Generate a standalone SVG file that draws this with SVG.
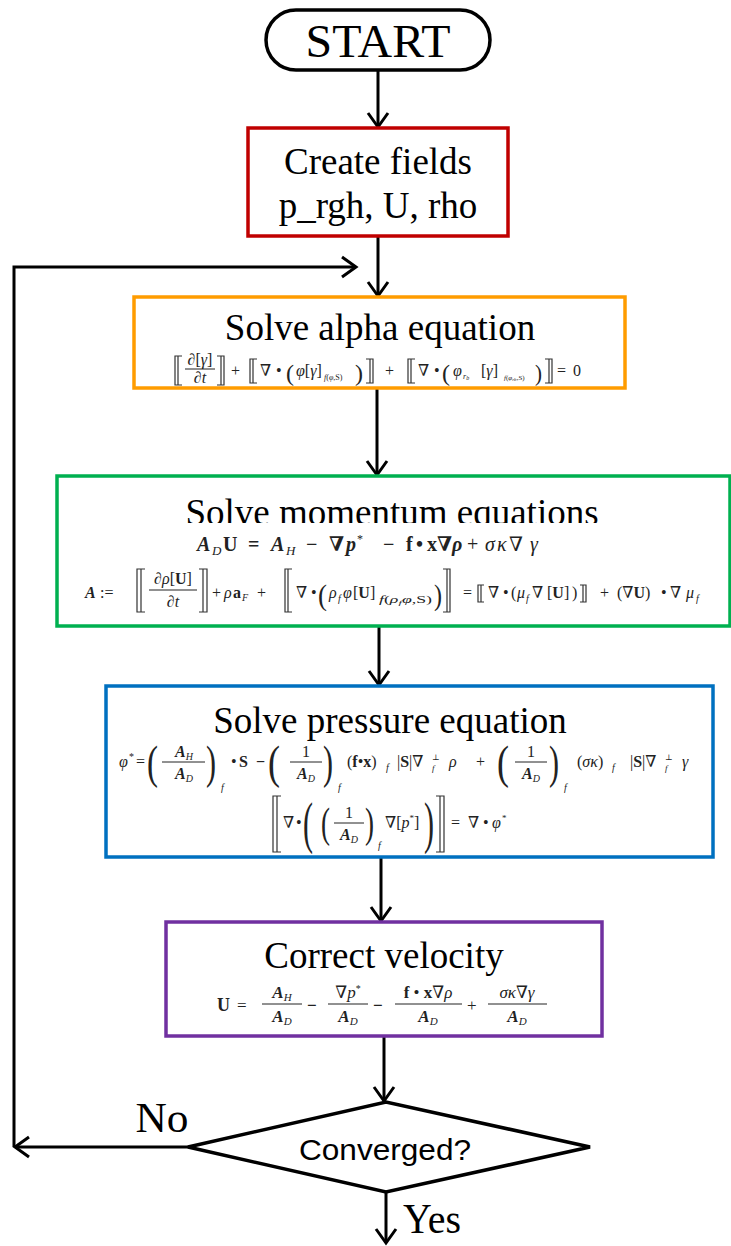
<svg xmlns="http://www.w3.org/2000/svg" width="731" height="1246" viewBox="0 0 731 1246">
<style>
.box{fill:#fff;stroke-width:3.5}
.lbl{font-family:"Liberation Serif","Times New Roman",serif;font-size:37px;fill:#000;text-anchor:middle}
.m{font-family:"Liberation Serif","DejaVu Serif",serif;font-size:16px;fill:#222}
.i{font-style:italic}
.b{font-weight:bold}
.bi{font-weight:bold;font-style:italic}
.bar{stroke:#222;stroke-width:1}
.db{fill:none;stroke:#333;stroke-width:1.2}
.c{text-anchor:middle}
.con{fill:none;stroke:#000;stroke-width:3}
</style>
<defs>
<marker id="ah" markerUnits="userSpaceOnUse" markerWidth="40" markerHeight="40" viewBox="-20 -20 40 40" refX="0" refY="0" orient="auto" overflow="visible">
<path d="M-14,-10 L0,0 L-14,10" fill="none" stroke="#000" stroke-width="3"/>
</marker>
<clipPath id="clipM"><rect x="60" y="470" width="660" height="53"/></clipPath>
</defs>
<rect width="731" height="1246" fill="#fff"/>

<g id="connectors">
<line class="con" x1="378" y1="70" x2="378" y2="127" marker-end="url(#ah)"/>
<line class="con" x1="378" y1="236" x2="378" y2="296" marker-end="url(#ah)"/>
<line class="con" x1="377" y1="388" x2="377" y2="475" marker-end="url(#ah)"/>
<line class="con" x1="379" y1="626" x2="379" y2="685" marker-end="url(#ah)"/>
<line class="con" x1="381" y1="857" x2="381" y2="921" marker-end="url(#ah)"/>
<line class="con" x1="384" y1="1036" x2="384" y2="1101" marker-end="url(#ah)"/>
<line class="con" x1="386" y1="1192" x2="386" y2="1243" marker-end="url(#ah)"/>
<line class="con" x1="188" y1="1147" x2="15" y2="1147" marker-end="url(#ah)"/>
<path class="con" d="M14,1147 V267 H356" marker-end="url(#ah)"/>
</g>

<g id="start">
<rect x="266" y="10" width="224" height="60" rx="30" ry="30" fill="#fff" stroke="#000" stroke-width="3.5"/>
<text class="lbl" x="378" y="57" textLength="145" lengthAdjust="spacingAndGlyphs" style="font-size:46px">START</text>
</g>

<g id="create-fields">
<rect class="box" x="248" y="128" width="260" height="108" stroke="#C00000"/>
<text class="lbl" x="378" y="174">Create fields</text>
<text class="lbl" x="378" y="218">p_rgh, U, rho</text>
</g>

<g id="solve-alpha">
<rect class="box" x="134" y="297" width="491" height="91" stroke="#FF9C00"/>
<text class="lbl" x="380" y="340">Solve alpha equation</text>
<g class="m">
<path class="db" d="M182,356 H175 V385 H182 M178,356 V385"/>
<text class="c" x="200" y="365">∂[<tspan class="i">γ</tspan>]</text>
<line class="bar" x1="185" y1="369" x2="215" y2="369"/>
<text class="c" x="200" y="383">∂<tspan class="i">t</tspan></text>
<path class="db" d="M217,356 H224 V385 H217 M221,356 V385"/>
<text x="231" y="376">+</text>
<path class="db" d="M257,359 H250 V383 H257 M253,359 V383"/>
<text x="260" y="376">∇</text>
<text x="276" y="376">•</text>
<text x="286" y="381" font-size="24" textLength="8" lengthAdjust="spacingAndGlyphs">(</text>
<text x="296" y="376"><tspan class="i">φ</tspan>[<tspan class="i">γ</tspan>]</text>
<text x="324" y="380" font-size="8"><tspan class="i">f</tspan>(<tspan class="i">φ</tspan>,S)</text>
<text x="355" y="381" font-size="24" textLength="8" lengthAdjust="spacingAndGlyphs">)</text>
<path class="db" d="M366,359 H373 V383 H366 M370,359 V383"/>
<text x="385" y="376">+</text>
<path class="db" d="M415,359 H408 V383 H415 M411,359 V383"/>
<text x="418" y="376">∇</text>
<text x="434" y="376">•</text>
<text x="442" y="381" font-size="24" textLength="8" lengthAdjust="spacingAndGlyphs">(</text>
<text class="i" x="453" y="376">φ</text>
<text class="i" x="463" y="379" font-size="8">r<tspan font-size="6" dy="1">b</tspan></text>
<text x="481" y="376">[<tspan class="i">γ</tspan>]</text>
<text x="504" y="380" font-size="7"><tspan class="i">f</tspan>(<tspan class="i">φ</tspan><tspan class="i" font-size="5" dy="1">rb</tspan><tspan dy="-1">,S)</tspan></text>
<text x="535" y="381" font-size="24" textLength="7" lengthAdjust="spacingAndGlyphs">)</text>
<path class="db" d="M545,359 H552 V383 H545 M549,359 V383"/>
<text x="557" y="376">=</text>
<text x="573" y="376">0</text>
</g>
</g>

<g id="solve-momentum">
<rect class="box" x="57" y="476" width="673" height="150" stroke="#00B050"/>
<text class="lbl" x="392" y="525" clip-path="url(#clipM)">Solve momentum equations</text>
<g class="m" style="font-size:20px">
<text class="bi" x="197" y="551">A</text>
<text class="i" x="212" y="555" font-size="13">D</text>
<text class="b" x="223" y="551">U</text>
<text class="b" x="248" y="551">=</text>
<text class="bi" x="271" y="551">A</text>
<text class="i" x="286" y="555" font-size="13">H</text>
<text class="b" x="306" y="551">−</text>
<text class="b" x="329" y="551">∇</text>
<text class="bi" x="346" y="551">p</text>
<text x="357" y="543" font-size="12">*</text>
<text class="b" x="383" y="551">−</text>
<text class="b" x="406" y="551">f</text>
<text class="b" x="416" y="551">•</text>
<text class="b" x="427" y="551">x</text>
<text class="b" x="437" y="551">∇</text>
<text class="bi" x="452" y="551">ρ</text>
<text x="467" y="551">+</text>
<text class="i" x="485" y="551">σ</text>
<text class="i" x="497" y="551">κ</text>
<text x="509" y="551">∇</text>
<text class="i" x="530" y="551">γ</text>
</g>
<g class="m" style="font-size:16px">
<text class="bi" x="85" y="598">A</text>
<text x="100" y="598">:=</text>
<path class="db" d="M145,569 H137 V612 H145 M141,569 V612"/>
<text class="c" x="173" y="584">∂<tspan class="i">ρ</tspan>[<tspan class="b">U</tspan>]</text>
<line class="bar" x1="149" y1="590" x2="197" y2="590"/>
<text class="c" x="173" y="607">∂<tspan class="i">t</tspan></text>
<path class="db" d="M199,569 H207 V612 H199 M203,569 V612"/>
<text x="212" y="598">+</text>
<text class="i" x="224" y="598">ρ</text>
<text class="b" x="233" y="598">a</text>
<text class="i" x="242" y="601" font-size="10">F</text>
<text x="257" y="598">+</text>
<path class="db" d="M292,569 H285 V612 H292 M288,569 V612"/>
<text x="296" y="598">∇</text>
<text x="311" y="598">•</text>
<text x="318" y="605" font-size="30" textLength="9" lengthAdjust="spacingAndGlyphs">(</text>
<text class="i" x="329" y="598">ρ</text>
<text class="i" x="338" y="602" font-size="10">f</text>
<text class="i" x="343" y="598">φ</text>
<text x="353" y="598">[<tspan class="b">U</tspan>]</text>
<text x="379" y="603" font-size="10" textLength="53" lengthAdjust="spacingAndGlyphs"><tspan class="i">f</tspan>(<tspan class="i">ρ</tspan><tspan class="i" font-size="7" dy="2">f</tspan><tspan class="i" dy="-2">φ</tspan>,S)</text>
<text x="434" y="605" font-size="30" textLength="8" lengthAdjust="spacingAndGlyphs">)</text>
<path class="db" d="M443,569 H450 V612 H443 M447,569 V612"/>
<text x="463" y="598">=</text>
<path class="db" d="M484,585 H478 V602 H484 M481,585 V602"/>
<text x="488" y="598">∇</text>
<text x="503" y="598">•</text>
<text x="511" y="598">(</text>
<text class="i" x="517" y="598">μ</text>
<text class="i" x="526" y="602" font-size="10">f</text>
<text x="532" y="598">∇</text>
<text x="547" y="598">[<tspan class="b">U</tspan>]</text>
<text x="572" y="598">)</text>
<path class="db" d="M580,585 H586 V602 H580 M583,585 V602"/>
<text x="600" y="598">+</text>
<text x="617" y="598">(∇<tspan class="b">U</tspan>)</text>
<text x="661" y="598">•</text>
<text x="670" y="598">∇</text>
<text class="i" x="686" y="598">μ</text>
<text class="i" x="696" y="602" font-size="10">f</text>
</g>
</g>

<g id="solve-pressure">
<rect class="box" x="106" y="686" width="607" height="171" stroke="#0070C0"/>
<text class="lbl" x="390" y="733">Solve pressure equation</text>
<g class="m">
<text class="i" x="119" y="767">φ</text>
<text x="129" y="760" font-size="10">*</text>
<text x="136" y="767">=</text>
<text x="147" y="778" font-size="46" textLength="11" lengthAdjust="spacingAndGlyphs">(</text>
<text class="c" x="184" y="757"><tspan class="bi">A</tspan><tspan class="i" font-size="10" dy="3">H</tspan></text>
<line class="bar" x1="162" y1="762" x2="205" y2="762"/>
<text class="c" x="184" y="779"><tspan class="bi">A</tspan><tspan class="i" font-size="10" dy="3">D</tspan></text>
<text x="206" y="778" font-size="46" textLength="10" lengthAdjust="spacingAndGlyphs">)</text>
<text class="i" x="221" y="791" font-size="10">f</text>
<text x="231" y="767">•</text>
<text class="b" x="239" y="767">S</text>
<text class="b" x="256" y="767">−</text>
<text x="268" y="778" font-size="46" textLength="12" lengthAdjust="spacingAndGlyphs">(</text>
<text class="c" x="306" y="757">1</text>
<line class="bar" x1="290" y1="762" x2="322" y2="762"/>
<text class="c" x="306" y="779"><tspan class="bi">A</tspan><tspan class="i" font-size="10" dy="3">D</tspan></text>
<text x="323" y="778" font-size="46" textLength="10" lengthAdjust="spacingAndGlyphs">)</text>
<text class="i" x="338" y="791" font-size="10">f</text>
<text x="347" y="767">(<tspan class="b">f</tspan>•<tspan class="b">x</tspan>)</text>
<text class="i" x="386" y="771" font-size="10">f</text>
<text x="397" y="767">|<tspan class="b">S</tspan>|∇</text>
<text x="432" y="760" font-size="8">⊥</text>
<text class="i" x="432" y="771" font-size="9">f</text>
<text class="i" x="449" y="767">ρ</text>
<text x="476" y="767">+</text>
<text x="497" y="778" font-size="46" textLength="12" lengthAdjust="spacingAndGlyphs">(</text>
<text class="c" x="531" y="757">1</text>
<line class="bar" x1="515" y1="762" x2="547" y2="762"/>
<text class="c" x="531" y="779"><tspan class="bi">A</tspan><tspan class="i" font-size="10" dy="3">D</tspan></text>
<text x="549" y="778" font-size="46" textLength="10" lengthAdjust="spacingAndGlyphs">)</text>
<text class="i" x="564" y="791" font-size="10">f</text>
<text x="577" y="767">(<tspan class="i">σκ</tspan>)</text>
<text class="i" x="612" y="771" font-size="10">f</text>
<text x="630" y="767">|<tspan class="b">S</tspan>|∇</text>
<text x="665" y="760" font-size="8">⊥</text>
<text class="i" x="665" y="771" font-size="9">f</text>
<text class="i" x="682" y="767">γ</text>

<path class="db" d="M281,796 H273 V852 H281 M277,796 V852"/>
<text x="283" y="828">∇</text>
<text x="296" y="828">•</text>
<text x="303" y="842" font-size="56" textLength="10" lengthAdjust="spacingAndGlyphs">(</text>
<text x="321" y="837" font-size="42" textLength="9" lengthAdjust="spacingAndGlyphs">(</text>
<text class="c" x="349" y="818">1</text>
<line class="bar" x1="334" y1="823" x2="364" y2="823"/>
<text class="c" x="349" y="840"><tspan class="bi">A</tspan><tspan class="i" font-size="10" dy="3">D</tspan></text>
<text x="365" y="837" font-size="42" textLength="9" lengthAdjust="spacingAndGlyphs">)</text>
<text class="i" x="378" y="849" font-size="10">f</text>
<text x="385" y="828">∇[<tspan class="i">p</tspan><tspan font-size="9" dy="-7">*</tspan><tspan dy="7">]</tspan></text>
<text x="424" y="842" font-size="56" textLength="10" lengthAdjust="spacingAndGlyphs">)</text>
<path class="db" d="M436,796 H444 V852 H436 M440,796 V852"/>
<text x="451" y="828">=</text>
<text x="468" y="828">∇</text>
<text x="483" y="828">•</text>
<text class="i" x="492" y="828">φ</text>
<text x="502" y="821" font-size="9">*</text>
</g>
</g>

<g id="correct-velocity">
<rect class="box" x="166" y="922" width="436" height="114" stroke="#7030A0"/>
<text class="lbl" x="384" y="968">Correct velocity</text>
<g class="m" style="font-size:17px">
<text class="b" x="217" y="1011" font-size="18">U</text>
<text x="237" y="1011">=</text>
<text class="c" x="282" y="998"><tspan class="bi">A</tspan><tspan class="i" font-size="11" dy="3">H</tspan></text>
<line class="bar" x1="262" y1="1004" x2="302" y2="1004"/>
<text class="c" x="282" y="1022"><tspan class="bi">A</tspan><tspan class="i" font-size="11" dy="3">D</tspan></text>
<text class="b" x="307" y="1011">−</text>
<text class="c" x="348" y="998">∇<tspan class="i">p</tspan><tspan font-size="10" dy="-6">*</tspan></text>
<line class="bar" x1="328" y1="1004" x2="368" y2="1004"/>
<text class="c" x="348" y="1022"><tspan class="bi">A</tspan><tspan class="i" font-size="11" dy="3">D</tspan></text>
<text class="b" x="373" y="1011">−</text>
<text class="c" x="428" y="998"><tspan class="b">f</tspan> • <tspan class="b">x</tspan>∇<tspan class="i">ρ</tspan></text>
<line class="bar" x1="395" y1="1004" x2="462" y2="1004"/>
<text class="c" x="428" y="1022"><tspan class="bi">A</tspan><tspan class="i" font-size="11" dy="3">D</tspan></text>
<text x="467" y="1011">+</text>
<text class="c" x="517" y="998"><tspan class="i">σκ</tspan>∇<tspan class="i">γ</tspan></text>
<line class="bar" x1="488" y1="1004" x2="547" y2="1004"/>
<text class="c" x="517" y="1022"><tspan class="bi">A</tspan><tspan class="i" font-size="11" dy="3">D</tspan></text>
</g>
</g>

<g id="converged">
<polygon points="188,1147 386,1102 590,1147 386,1192" fill="#fff" stroke="#000" stroke-width="3.5"/>
<text x="385" y="1160" font-family="'Liberation Sans',Arial,sans-serif" font-size="29" text-anchor="middle" textLength="172" lengthAdjust="spacingAndGlyphs">Converged?</text>
</g>

<g id="labels">
<text class="lbl" x="162" y="1132" style="font-size:42px" textLength="53" lengthAdjust="spacingAndGlyphs">No</text>
<text x="403" y="1233" font-family="'Liberation Serif',serif" font-size="42" textLength="58" lengthAdjust="spacingAndGlyphs">Yes</text>
</g>
</svg>
